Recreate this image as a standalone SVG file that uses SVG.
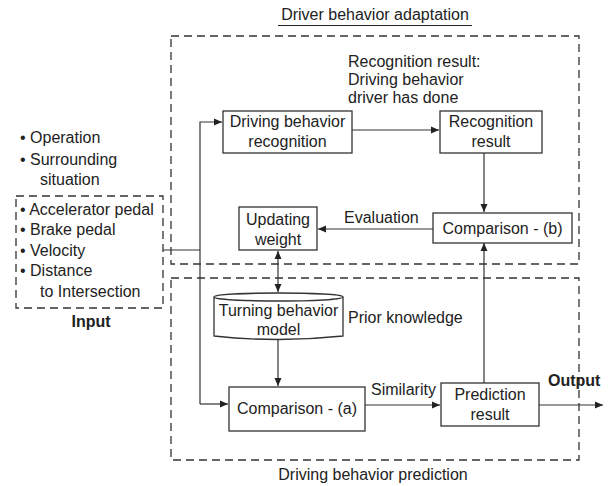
<svg xmlns="http://www.w3.org/2000/svg" width="610" height="486" viewBox="0 0 610 486">
<defs>
<style>
text{font-family:"Liberation Sans",Arial,sans-serif;font-size:16px;fill:#222}
.c{text-anchor:middle}
.b{font-weight:bold}
.box{fill:#fff;stroke:#333;stroke-width:1.3}
.dash{fill:none;stroke:#333;stroke-width:1.3;stroke-dasharray:8 5}
.ln{fill:none;stroke:#333;stroke-width:1.2}
</style>
<marker id="ah" viewBox="0 0 8 8" refX="8" refY="4" markerWidth="8" markerHeight="8" markerUnits="userSpaceOnUse" orient="auto-start-reverse">
<path d="M0,0.5 L8,4 L0,7.5 z" fill="#222"/>
</marker>
</defs>
<rect width="610" height="486" fill="#fff"/>

<g id="regions">
<rect class="dash" x="171" y="36" width="408" height="228"/>
<rect class="dash" x="171" y="278" width="408" height="182"/>
<text class="c" x="375" y="20">Driver behavior adaptation</text>
<line x1="278" y1="25.5" x2="472" y2="25.5" stroke="#222" stroke-width="1.2"/>
<text class="c" x="373" y="480">Driving behavior prediction</text>
</g>

<g id="input">
<text x="20" y="143">• Operation</text>
<text x="20" y="165">• Surrounding</text>
<text x="40" y="185">situation</text>
<rect class="dash" x="16" y="196" width="147" height="112"/>
<text x="20" y="215">• Accelerator pedal</text>
<text x="20" y="235">• Brake pedal</text>
<text x="20" y="256">• Velocity</text>
<text x="20" y="276">• Distance</text>
<text x="40" y="297">to Intersection</text>
<text class="c b" x="91" y="327">Input</text>
</g>

<g id="connectors">
<polyline class="ln" points="163,250 200,250"/>
<polyline class="ln" points="200,404 200,122 222,122" marker-end="url(#ah)"/>
<polyline class="ln" points="200,404 228,404" marker-end="url(#ah)"/>
<line class="ln" x1="352" y1="130" x2="439" y2="130" marker-end="url(#ah)"/>
<line class="ln" x1="484" y1="153" x2="484" y2="212" marker-end="url(#ah)"/>
<line class="ln" x1="433" y1="229" x2="318" y2="229" marker-end="url(#ah)"/>
<line class="ln" x1="278" y1="251" x2="278" y2="292" marker-start="url(#ah)" marker-end="url(#ah)"/>
<line class="ln" x1="278" y1="340" x2="278" y2="386" marker-end="url(#ah)"/>
<line class="ln" x1="365" y1="405" x2="440" y2="405" marker-end="url(#ah)"/>
<line class="ln" x1="484" y1="383" x2="484" y2="243" marker-end="url(#ah)"/>
<line class="ln" x1="539" y1="405" x2="603" y2="405" marker-end="url(#ah)"/>
<text x="344" y="223">Evaluation</text>
<text x="371" y="395">Similarity</text>
<text class="b" x="548" y="386">Output</text>
<text x="348" y="323">Prior knowledge</text>
<text x="348" y="67">Recognition result:</text>
<text x="348" y="85">Driving behavior</text>
<text x="348" y="103">driver has done</text>
</g>

<g id="dbr">
<rect class="box" x="223" y="111" width="129" height="42"/>
<text class="c" x="287.5" y="127">Driving behavior</text>
<text class="c" x="287.5" y="147">recognition</text>
</g>

<g id="recognition-result">
<rect class="box" x="440" y="111" width="102" height="42"/>
<text class="c" x="491" y="127">Recognition</text>
<text class="c" x="491" y="147">result</text>
</g>

<g id="comparison-b">
<rect class="box" x="433" y="213" width="139" height="30"/>
<text class="c" x="502.5" y="234">Comparison - (b)</text>
</g>

<g id="updating-weight">
<rect class="box" x="239" y="207" width="78" height="43"/>
<text class="c" x="278" y="225">Updating</text>
<text class="c" x="278" y="245">weight</text>
</g>

<g id="turning-model">
<path class="box" d="M214,297 L214,336 Q278,343 343,336 L343,297"/>
<ellipse class="box" cx="278.5" cy="297" rx="64.5" ry="4"/>
<text class="c" x="278.5" y="316">Turning behavior</text>
<text class="c" x="278.5" y="335">model</text>
</g>

<g id="comparison-a">
<rect class="box" x="229" y="387" width="136" height="44"/>
<text class="c" x="297" y="414">Comparison - (a)</text>
</g>

<g id="prediction-result">
<rect class="box" x="441" y="383" width="98" height="43"/>
<text class="c" x="490" y="400">Prediction</text>
<text class="c" x="490" y="420">result</text>
</g>
</svg>
